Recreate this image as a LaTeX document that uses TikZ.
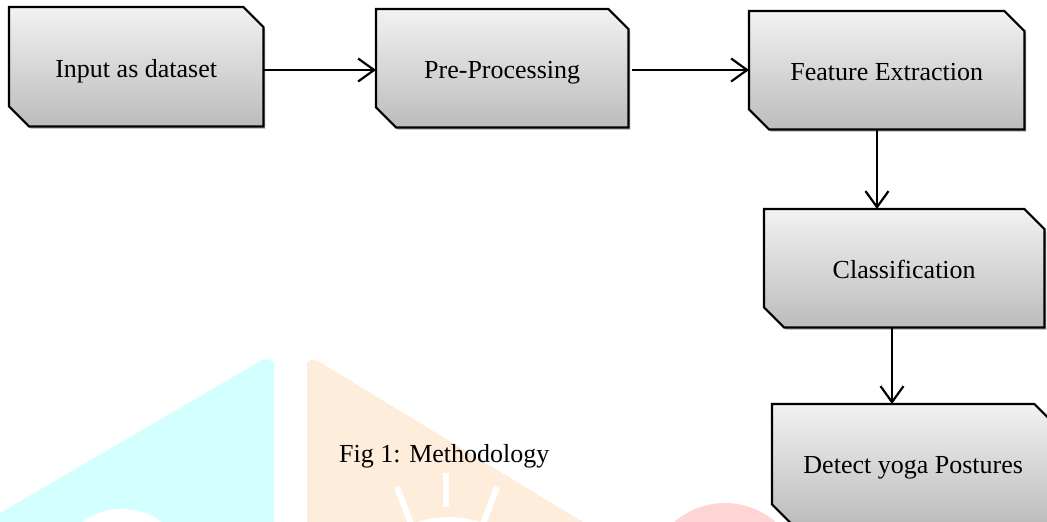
\documentclass[tikz,border=0pt]{standalone}
\usepackage{fontspec}
\setmainfont{Liberation Serif}
\usetikzlibrary{arrows.meta,calc}
\pgfdeclarelayer{wm}
\pgfdeclarelayer{bg}
\pgfsetlayers{wm,bg,main}
\definecolor{wmcyan}{RGB}{212,255,255}
\definecolor{wmorange}{RGB}{255,237,220}
\definecolor{wmred}{RGB}{255,212,212}
\definecolor{boxtop}{RGB}{242,242,242}
\definecolor{boxbot}{RGB}{188,188,188}
\tikzset{
  lbl/.style={rectangle, inner sep=0pt, anchor=north west, font=\fontsize{26}{30}\selectfont},
  boxoutline/.style={draw=black, line width=2.2pt, top color=boxtop, bottom color=boxbot, line join=miter},
  boxshadow/.style={fill=black, opacity=0.22, transform canvas={xshift=2pt,yshift=-2.5pt}},
  arr/.style={line width=2.2pt, -{Straight Barb[length=16pt,width=23pt,line width=2.2pt]}},
  ray/.style={draw=white, line width=6pt},
}
\newcommand{\chamferbox}[2]{%
  \path[#2] (#1.north west) -- ([xshift=-20pt]#1.north east) -- ([yshift=-20pt]#1.north east)
    -- (#1.south east) -- ([xshift=20pt]#1.south west) -- ([yshift=20pt]#1.south west) -- cycle;}
\begin{document}
\begin{tikzpicture}[x=1pt,y=-1pt]
\useasboundingbox (0,0) rectangle (1047,522);
\clip (0,0) rectangle (1047,522);
% nodes
\node[lbl, minimum width=254pt, minimum height=119pt] (in) at (9,7) {};
\node[lbl, minimum width=252pt, minimum height=118pt] (pp) at (376,9) {};
\node[lbl, minimum width=275pt, minimum height=118pt] (fe) at (749,11) {};
\node[lbl, minimum width=280pt, minimum height=118pt] (cl) at (764,209) {};
\node[lbl, minimum width=282pt, minimum height=120pt] (dy) at (772,404) {};
\node[lbl, anchor=center] (tin) at ($(in.center)+(0,4.5)$) {Input as dataset};
\node[lbl, anchor=center] (tpp) at ($(pp.center)+(0,4)$) {Pre-Processing};
\node[lbl, anchor=center] (tfe) at ($(fe.center)+(0,2)$) {Feature Extraction};
\node[lbl, anchor=center] (tcl) at ($(cl.center)+(0,1.5)$) {Classification};
\node[lbl, anchor=center] (tdy) at ($(dy.center)+(0,4)$) {Detect yoga Postures};
\node[font=\fontsize{26}{30}\selectfont, anchor=base west, inner sep=0pt] (cap) at (339,462) {Fig 1: Methodology};
% box outlines
\begin{pgfonlayer}{bg}
\foreach \n in {in,pp,fe,cl,dy}{\chamferbox{\n}{boxshadow}}
\foreach \n in {in,pp,fe,cl,dy}{\chamferbox{\n}{boxoutline}}
\end{pgfonlayer}
% connectors
\coordinate (ya) at (0,70);
\coordinate (xa) at (877,0);
\coordinate (xb) at (892,0);
\draw[arr] (in.east |- ya) -- (pp.west |- ya);
\draw[arr] ([xshift=4pt]pp.east |- ya) -- (fe.west |- ya);
\draw[arr] (fe.south -| xa) -- (cl.north -| xa);
\draw[arr] (cl.south -| xb) -- (dy.north -| xb);
% watermark
\begin{pgfonlayer}{wm}
\fill[wmcyan] (0,513) -- (262,360) -- (268,359) -- (274,363) -- (274,530) -- (0,530) -- cycle;
\fill[white] (122,576) circle (67);
\fill[wmorange] (307,362) -- (312,359) -- (318,361) -- (596,530) -- (307,530) -- cycle;
\fill[white] (449,616) circle (99);
\draw[ray] (446,473) -- (446,507);
\draw[ray] (397,487) -- (411,524);
\draw[ray] (497,487) -- (483,524);
\fill[wmred] (725,580) circle (77);
\end{pgfonlayer}
\end{tikzpicture}
\end{document}
